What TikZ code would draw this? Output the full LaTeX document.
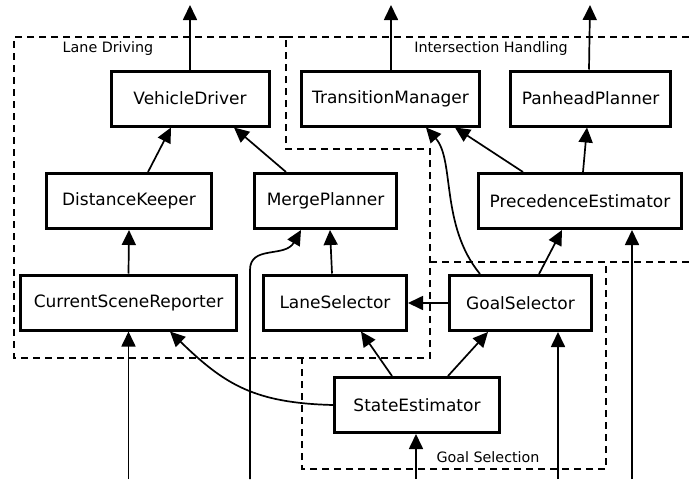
\documentclass[tikz,border=0pt]{standalone}
\usepackage{fontspec}
\setmainfont{DejaVu Sans}
\usetikzlibrary{arrows.meta}
\begin{document}
\begin{tikzpicture}[x=1pt,y=-1pt,
  box/.style={draw,line width=3pt,minimum width=#1,minimum height=55pt,inner sep=0pt,font=\fontsize{17}{20}\selectfont},
  conn/.style={line width=1.7pt,-{Triangle[length=15pt,width=14pt]}},
  region/.style={line width=1.1pt,dash pattern=on 7pt off 5pt},
  rlabel/.style={font=\fontsize{14.3}{16}\selectfont,inner sep=0pt}]
\fill[white] (0,0) rectangle (693,479);
\useasboundingbox (0,0) rectangle (693,479);

% regions
\draw[region] (286,37) -- (14,37) -- (14,358) -- (430,358) -- (430,149) -- (286,149) -- cycle;
\draw[region] (286,37) -- (693,37);
\draw[region] (430,262) -- (693,262);
\draw[region] (430,262) -- (606,262) -- (606,469) -- (302,469) -- (302,358);
\node[rlabel] (lLD) at (108,49) {Lane Driving};
\node[rlabel] (lIH) at (491,49) {Intersection Handling};
\node[rlabel] (lGS) at (488,457) {Goal Selection};

% boxes
\node[box=158] (VD) at (190,98.5) {VehicleDriver};
\node[box=178] (TM) at (390.5,98.5) {TransitionManager};
\node[box=160] (PP) at (590.5,98.5) {PanheadPlanner};
\node[box=165] (DK) at (129,201) {DistanceKeeper};
\node[box=142] (MP) at (325.5,201) {MergePlanner};
\node[box=203] (PE) at (580,201) {PrecedenceEstimator};
\node[box=216] (CSR) at (128.5,302.5) {CurrentSceneReporter};
\node[box=143] (LS) at (335,302.5) {LaneSelector};
\node[box=142] (GS) at (520.5,303) {GoalSelector};
\node[box=165] (SE) at (417,405) {StateEstimator};

% free ends
\coordinate (oVD) at (190,5);
\coordinate (oTM) at (391,5);
\coordinate (oPP) at (590,5);
\coordinate (iCSR) at (128.5,479);
\coordinate (iMP) at (250,479);
\coordinate (iSE) at (416,479);
\coordinate (iGS) at (558,479);
\coordinate (iPE) at (632,479);

% outputs
\draw[conn] (VD.north) -- (oVD);
\draw[conn] ([xshift=0.5pt]TM.north) -- (oTM);
\draw[conn] ([xshift=-1.5pt]PP.north) -- (oPP);

% internal
\draw[conn] ([xshift=19pt]DK.north) -- ([xshift=-19pt]VD.south);
\draw[conn] ([xshift=-39.5pt]MP.north) -- ([xshift=44pt]VD.south);
\draw[conn] (CSR.north) -- (DK.south);
\draw[conn] ([xshift=-3pt]LS.north) -- ([xshift=4.5pt]MP.south);
\draw[conn] ([xshift=-57pt]PE.north) -- ([xshift=64.5pt]TM.south);
\draw[conn] ([xshift=3pt]PE.north) -- ([xshift=-3.5pt]PP.south);
\draw[conn] ([xshift=-25pt]SE.north) -- ([xshift=26pt]LS.south);
\draw[conn] ([xshift=31pt]SE.north) -- ([xshift=-32.5pt]GS.south);
\draw[conn] (GS.west) -- (GS.west -| LS.east);
\draw[conn] ([xshift=18.5pt]GS.north) -- ([xshift=-18pt]PE.south);
\draw[conn] ([xshift=-40.5pt]GS.north) .. controls (440,225) and (455,160) .. ([xshift=35.5pt]TM.south);
\draw[conn] (SE.west) .. controls (255,403) and (225,385) .. ([xshift=41.5pt]CSR.south);

% inputs
\draw[conn] (iCSR) -- (CSR.south);
\draw[conn] (iMP) -- (250,270) .. controls (250,245) and (285,258) .. ([xshift=-24.5pt]MP.south);
\draw[conn] (iSE) -- (SE.south -| iSE);
\draw[conn] (iGS) -- (GS.south -| iGS);
\draw[conn] (iPE) -- (PE.south -| iPE);
\end{tikzpicture}
\end{document}
